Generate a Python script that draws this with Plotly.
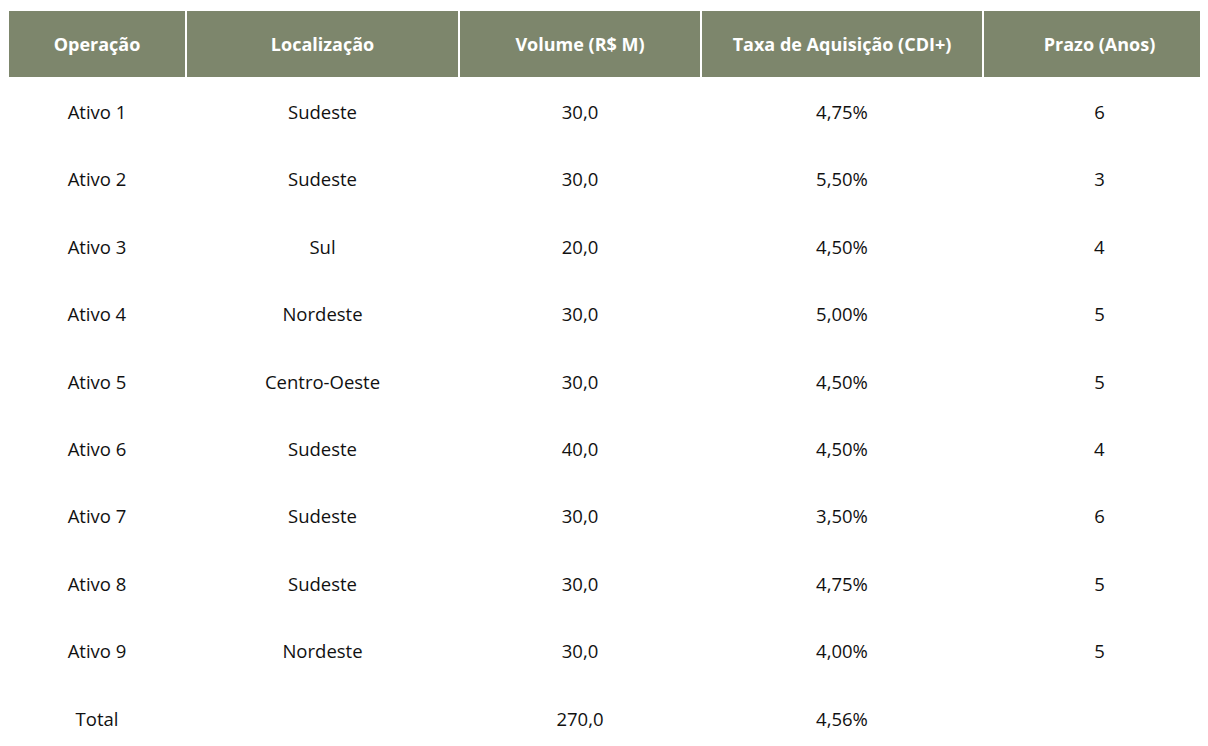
import plotly.graph_objects as go

# ---- data ----
headers = ["Operação", "Localização", "Volume (R$ M)", "Taxa de Aquisição (CDI+)", "Prazo (Anos)"]
operacao = ["Ativo 1", "Ativo 2", "Ativo 3", "Ativo 4", "Ativo 5", "Ativo 6", "Ativo 7", "Ativo 8", "Ativo 9", "Total"]
localizacao = ["Sudeste", "Sudeste", "Sul", "Nordeste", "Centro-Oeste", "Sudeste", "Sudeste", "Sudeste", "Nordeste", ""]
volume = [30.0, 30.0, 20.0, 30.0, 30.0, 40.0, 30.0, 30.0, 30.0, 270.0]
taxa = [4.75, 5.50, 4.50, 5.00, 4.50, 4.50, 3.50, 4.75, 4.00, 4.56]
prazo = ["6", "3", "4", "5", "5", "4", "6", "5", "5", ""]

def br_num(v, dec):
    return f"{v:.{dec}f}".replace(".", ",")

volume_txt = [br_num(v, 1) for v in volume]
taxa_txt = [br_num(v, 2) + "%" for v in taxa]

HEADER_FILL = "#7d866c"
HEADER_TEXT = 18
BODY_TEXT = 18.5
HEADER_BASE = 13.7  # base font size controlling vertical offset of text line
BODY_BASE = 13.8

def wrap(s, size, bold=False):
    inner = f"<b>{s}</b>" if bold else s
    return f" <br><span style='font-size:{size}px'>{inner}</span>"

columns = [operacao, localizacao, volume_txt, taxa_txt, prazo]

fig = go.Figure(go.Table(
    columnwidth=[178, 273, 242, 282, 233],
    header=dict(
        values=[wrap(h, HEADER_TEXT, bold=True) for h in headers],
        fill_color=HEADER_FILL,
        line=dict(color="white", width=2),
        font=dict(family="Open Sans", size=HEADER_BASE, color="white"),
        align="center",
        height=68,
    ),
    cells=dict(
        values=[[wrap(v, BODY_TEXT) for v in col] for col in columns],
        fill_color="white",
        line=dict(color="white", width=0),
        font=dict(family="Open Sans", size=BODY_BASE, color="#111111"),
        align="center",
        height=67.4,
    ),
    domain=dict(x=[0, 1], y=[0, 1]),
))

fig.update_layout(
    width=1208,
    height=746,
    margin=dict(l=0, r=0, t=2, b=0, pad=0),
    paper_bgcolor="white",
)

fig.write_html("out.html")
